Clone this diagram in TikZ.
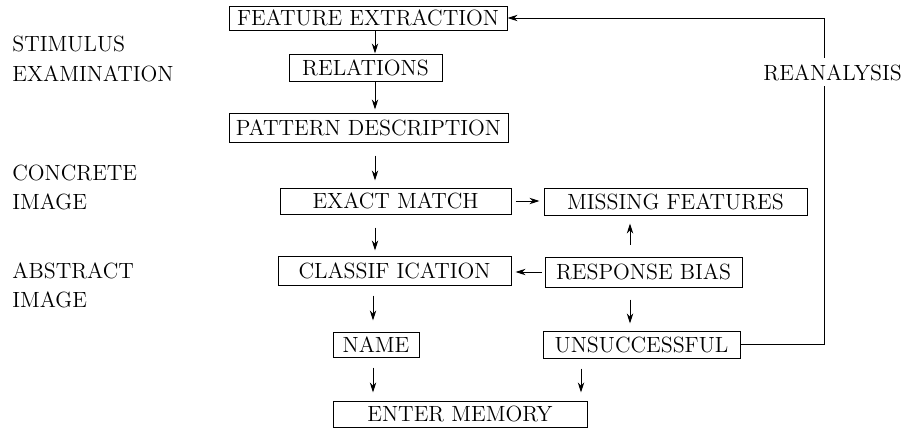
\documentclass[tikz,border=0pt]{standalone}
\usetikzlibrary{arrows.meta}
\begin{document}
\begin{tikzpicture}[x=0.5pt,y=-0.5pt,
  txt/.style={font=\fontsize{11}{13}\selectfont},
  box/.style={txt, draw, line width=0.5pt, inner sep=0pt, anchor=center},
  arr/.style={-{Stealth[length=5pt,width=3.2pt]}, line width=0.5pt},
  lbl/.style={txt, anchor=base west, inner sep=0pt}]
\useasboundingbox (0,0) rectangle (915,428);

% column positions of the vertical connectors
\coordinate (colA) at (375,0);
\coordinate (colB) at (373,0);
\coordinate (colC) at (630,0);
\coordinate (colD) at (581,0);
\coordinate (fb) at (824,0);

% processing stages
\node[box, minimum width=139pt,  minimum height=12pt]   (fe)  at (368,18)    {FEATURE EXTRACTION};
\node[box, minimum width=76.5pt, minimum height=13.5pt] (rel) at (365.5,67.5) {RELATIONS};
\node[box, minimum width=139.5pt,minimum height=14.5pt] (pd)  at (368.5,127.5) {PATTERN DESCRIPTION};
\node[box, minimum width=115.5pt,minimum height=13pt]   (em)  at (395.5,201) {EXACT MATCH};
\node[box, minimum width=131.5pt,minimum height=13.5pt] (mf)  at (675.5,201.5) {MISSING FEATURES};
\node[box, minimum width=116.5pt,minimum height=14.5pt] (cl)  at (394.5,270.5) {CLASSIF ICATION};
\node[box, minimum width=98.5pt, minimum height=15pt]   (rb)  at (643.5,272) {RESPONSE BIAS};
\node[box, minimum width=43pt,   minimum height=12.5pt] (nm)  at (376,344.5) {NAME};
\node[box, minimum width=98.5pt, minimum height=13.5pt] (uns) at (641.5,344.5) {UNSUCCESSFUL};
\node[box, minimum width=127pt,  minimum height=13pt]   (mem) at (460,414) {ENTER MEMORY};

% level labels
\node[lbl] (l1) at (12,51)  {STIMULUS};
\node[lbl] (l2) at (12,81)  {EXAMINATION};
\node[lbl] (l3) at (12,180) {CONCRETE};
\node[lbl] (l4) at (12,209) {IMAGE};
\node[lbl] (l5) at (12,278) {ABSTRACT};
\node[lbl] (l6) at (12,307) {IMAGE};

% connectors
\draw[arr] (fe.south -| colA) -- (rel.north -| colA);
\draw[arr, shorten >=1.5pt] (rel.south -| colA) -- (pd.north -| colA);
\draw[arr, shorten <=6.5pt, shorten >=3.5pt] (pd.south -| colA) -- (em.north -| colA);
\draw[arr, shorten <=6.5pt, shorten >=2.5pt] (em.south -| colA) -- (cl.north -| colA);
\draw[arr, shorten <=5pt, shorten >=5.5pt] (cl.south -| colB) -- (nm.north -| colB);
\draw[arr, shorten <=5pt, shorten >=4pt] (nm.south -| colB) -- (mem.north -| colB);
\draw[arr, shorten <=5pt, shorten >=4pt] (uns.south -| colD) -- (mem.north -| colD);
\draw[arr, shorten <=6pt, shorten >=3.5pt] (rb.south -| colC) -- (uns.north -| colC);
\draw[arr, shorten <=6pt, shorten >=4pt] (rb.north -| colC) -- (mf.south -| colC);
\draw[arr, shorten <=2pt, shorten >=2pt] (em.east) -- (em.east -| mf.west);
\draw[arr, shorten <=1.5pt, shorten >=2pt] (rb.west) -- (rb.west -| cl.east);
\draw[arr] (uns.east) -- (uns.east -| fb) -- (fe.east -| fb) -- (fe.east);

% feedback label, set over the return line
\node[lbl, fill=white, inner ysep=3pt, inner xsep=0pt] (l7) at (763,80) {REANALYSIS};
\end{tikzpicture}
\end{document}
